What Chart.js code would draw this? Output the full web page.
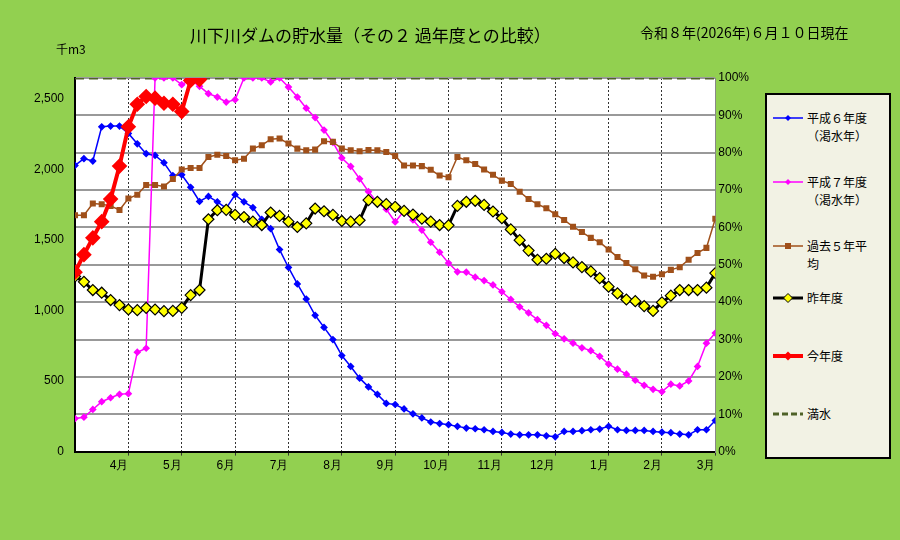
<!DOCTYPE html>
<html><head><meta charset="utf-8">
<script src="https://cdn.jsdelivr.net/npm/chart.js@4"></script>
<style>
body{margin:0;background:#92d050;font-family:"Noto Sans CJK JP",sans-serif;}
#wrap{position:relative;width:900px;height:540px;overflow:hidden;}
#c{position:absolute;left:0;top:0;}
.t{position:absolute;white-space:nowrap;color:#000;}
#legend{position:absolute;left:765px;top:93px;width:122px;height:362px;background:#f2f2e4;border:2px solid #000;font-size:12px;}
.li{position:absolute;left:6px;width:112px;height:40px;}
.li span{position:absolute;left:34px;top:0;width:80px;line-height:18px;white-space:nowrap;}
</style></head><body>
<div id="wrap">
<canvas id="c" width="760" height="476"></canvas>
<div class="t" style="left:190px;top:22px;font-size:17px;">川下川ダムの貯水量（その２ 過年度との比較）</div>
<div class="t" style="left:640px;top:22px;font-size:14px;">令和８年(2026年)６月１０日現在</div>
<div class="t" style="left:56px;top:40px;font-size:12px;">千m3</div>
<div id="legend"></div>
</div>
<script>
const capacity = 2650;
const monthLabels = ['4月','5月','6月','7月','8月','9月','10月','11月','12月','1月','2月','3月'];
const seriesNames = ['平成６年度\n（渇水年）','平成７年度\n（渇水年）','過去５年平\n均','昨年度','今年度','満水'];
const h6 = [2030,2078,2061,2304,2309,2309,2257,2183,2113,2101,2049,1958,1963,1875,1774,1810,1772,1727,1822,1772,1731,1648,1581,1433,1306,1189,1082,967,881,795,681,604,521,459,406,342,334,
  303,268,239,210,199,191,179,167,162,155,143,136,124,119,119,119,112,105,143,143,148,155,160,179,155,150,150,150,143,138,134,124,119,155,155,220];
const h7 = [234,244,299,354,382,406,411,705,733,2650,2650,2650,2603,2639,2591,2539,2515,2479,2496,2650,2650,2650,2622,2650,2586,2515,2436,2369,2281,2193,2083,2023,1935,1844,1767,1719,1629,
  1707,1643,1571,1485,1414,1337,1275,1273,1237,1213,1182,1134,1079,1027,984,936,896,836,800,769,736,716,676,621,585,549,506,470,442,425,478,466,501,604,769,841];
const avg5 = [1676,1676,1760,1755,1743,1714,1795,1822,1891,1891,1881,1934,2001,2011,2011,2090,2106,2097,2066,2078,2149,2173,2216,2221,2185,2149,2137,2142,2201,2197,2149,2137,2130,2139,2137,2125,2097,
  2030,2030,2025,1999,1958,1946,2090,2066,2040,2001,1963,1922,1898,1843,1791,1755,1726,1683,1643,1595,1557,1516,1485,1433,1380,1337,1294,1249,1241,1258,1289,1308,1361,1409,1445,1652];
const lastYear = [1242,1204,1146,1127,1075,1039,1008,1003,1020,1008,996,998,1020,1110,1146,1648,1712,1715,1679,1664,1631,1607,1696,1672,1631,1593,1619,1724,1705,1679,1636,1631,1641,1784,1772,1755,1736,
  1707,1681,1653,1631,1607,1605,1743,1772,1779,1750,1703,1655,1576,1500,1426,1361,1368,1402,1373,1342,1309,1278,1230,1170,1122,1079,1067,1032,998,1058,1106,1146,1146,1146,1163,1266];
const thisYear = [1273,1397,1516,1631,1791,2025,2304,2464,2519,2507,2471,2464,2412,2632,2639];

const pts = arr => arr.map((v,i)=>({x:i,y:v}));

const bgPlugin = {
  id:'bg',
  beforeDraw(ch){const a=ch.chartArea,c=ch.ctx;c.save();c.fillStyle='#fff';c.fillRect(a.left,a.top,a.right-a.left,a.bottom-a.top);c.restore();}
};

new Chart(document.getElementById('c'), {
  type:'line',
  data:{datasets:[
    {label:'今年度',data:pts(thisYear),borderColor:'#ff0000',backgroundColor:'#ff0000',borderWidth:4,pointStyle:'rectRot',pointRadius:5,order:1},
    {label:'昨年度',data:pts(lastYear),borderColor:'#000',backgroundColor:'#ffff00',borderWidth:3,pointBorderWidth:1.2,pointStyle:'rectRot',pointRadius:5.5,order:2},
    {label:'過去５年平均',data:pts(avg5),borderColor:'#a0501a',backgroundColor:'#a0501a',borderWidth:1.5,pointStyle:'rect',pointRadius:3.2,order:3},
    {label:'平成７年度',data:pts(h7),borderColor:'#ff00ff',backgroundColor:'#ff00ff',borderWidth:1.5,pointStyle:'rectRot',pointRadius:2.8,order:4},
    {label:'平成６年度',data:pts(h6),borderColor:'#0000ff',backgroundColor:'#0000ff',borderWidth:1.5,pointStyle:'rectRot',pointRadius:2.8,order:5},
    {label:'満水',data:[{x:0,y:capacity},{x:72,y:capacity}],borderColor:'#4f6228',borderWidth:3,borderDash:[9,5],pointRadius:0,order:6}
  ]},
  options:{
    responsive:false,animation:false,
    layout:{padding:{left:31,top:78,right:8,bottom:0}},
    plugins:{legend:{display:false},tooltip:{enabled:false}},
    scales:{
      x:{type:'linear',min:0,max:72,
        afterBuildTicks(ax){ax.ticks=monthLabels.map((m,i)=>({value:(i+1)*6}));},
        ticks:{autoSkip:false,maxRotation:0,align:'end',color:'#000',font:{size:12},callback:(v)=>monthLabels[v/6-1]},
        grid:{color:'#333',lineWidth:1,tickLength:4},border:{display:true,color:'#000',width:2,dash:[2,2]}},
      y:{type:'linear',position:'left',min:0,max:capacity,
        afterBuildTicks(ax){ax.ticks=[0,500,1000,1500,2000,2500].map(v=>({value:v}));},
        ticks:{color:'#000',font:{size:12},callback:v=>v.toLocaleString('en-US')},
        grid:{display:false},border:{color:'#000',width:2}},
      y2:{type:'linear',position:'right',min:0,max:100,
        ticks:{stepSize:10,color:'#000',font:{size:12},callback:v=>v+'%'},
        grid:{color:'#999',lineWidth:2,drawTicks:false},border:{color:'#888',width:1}}
    }
  },
  plugins:[bgPlugin]
});

// legend
const lg=document.getElementById('legend');
const items=[
  {n:seriesNames[0],top:14,c:'#0000ff',w:1.5,m:'d',mc:'#0000ff',ms:6},
  {n:seriesNames[1],top:78,c:'#ff00ff',w:1.5,m:'d',mc:'#ff00ff',ms:6},
  {n:seriesNames[2],top:142,c:'#a0501a',w:1.5,m:'s',mc:'#a0501a',ms:6},
  {n:seriesNames[3],top:194,c:'#000',w:3,m:'d',mc:'#ffff00',ms:9},
  {n:seriesNames[4],top:252,c:'#ff0000',w:4,m:'d',mc:'#ff0000',ms:9},
  {n:seriesNames[5],top:310,c:'#4f6228',w:3,m:null,dash:true}
];
items.forEach(it=>{
  const d=document.createElement('div');d.className='li';d.style.top=it.top+'px';
  const cv=document.createElement('canvas');cv.width=30;cv.height=18;d.appendChild(cv);
  const g=cv.getContext('2d');g.strokeStyle=it.c;g.lineWidth=it.w;
  if(it.dash)g.setLineDash([6,3]);
  g.beginPath();g.moveTo(0,9);g.lineTo(30,9);g.stroke();g.setLineDash([]);
  if(it.m){const s=it.ms/2;g.fillStyle=it.mc;g.beginPath();
    if(it.m==='d'){g.moveTo(15,9-s);g.lineTo(15+s,9);g.lineTo(15,9+s);g.lineTo(15-s,9);g.closePath();}
    else g.rect(15-s,9-s,2*s,2*s);
    g.fill();if(it.mc==='#ffff00'){g.strokeStyle='#000';g.lineWidth=1;g.stroke();}}
  const sp=document.createElement('span');sp.innerHTML=it.n.replace('\n','<br>');
  d.appendChild(sp);lg.appendChild(d);
});
</script>
</body></html>
